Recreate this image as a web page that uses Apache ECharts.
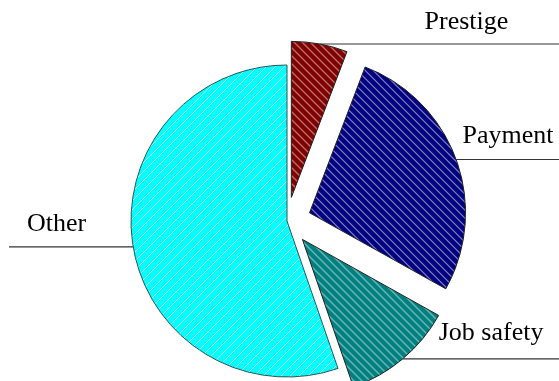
<!DOCTYPE html>
<html>
<head>
<meta charset="utf-8">
<script src="https://cdn.jsdelivr.net/npm/echarts@6/dist/echarts.min.js"></script>
<style>
  html, body { margin: 0; padding: 0; background: #fff; }
  #chart { width: 559px; height: 381px; }
</style>
</head>
<body>
<div id="chart"></div>
<script>
// Reasons for choosing a job: share of answers per category
const categories = ['Prestige', 'Payment', 'Job safety', 'Other'];
const shares = [5.8, 27.3, 11.6, 55.3];
const exploded = [true, true, true, false];

// Fill colours and hatch direction per category
const baseColors = ['#800000', '#000080', '#008080', '#00ffff'];
const hatchDir = ['\\', '\\', '\\', '/'];
const hatchSize = [8, 8, 8, 9];
const borderColors = ['#202020', '#202020', '#202020', '#2a5555'];

// Label placement: distance of the text from the chart edge, lift of the
// text above its leader line, and where the leader line ends
const labelLayouts = [
  { edgeDistance: 55, lift: 22, lineEnd: 559 },
  { edgeDistance: 28, lift: 23, lineEnd: 559 },
  { edgeDistance: 31, lift: 26, lineEnd: 559 },
  { edgeDistance: 27, lift: 23, lineEnd: 9 }
];

const labelFont = '"Liberation Serif", "Times New Roman", serif';

function hatch(base, size, dir, alpha) {
  const c = document.createElement('canvas');
  c.width = size; c.height = size;
  const g = c.getContext('2d');
  g.fillStyle = base;
  g.fillRect(0, 0, size, size);
  g.strokeStyle = 'rgba(255,255,255,' + alpha + ')';
  g.lineWidth = 1;
  g.beginPath();
  for (let k = -1; k <= 1; k++) {
    if (dir === '\\') {
      g.moveTo(k * size, 0);
      g.lineTo(k * size + size, size);
    } else {
      g.moveTo(k * size, size);
      g.lineTo(k * size + size, 0);
    }
  }
  g.stroke();
  return c;
}

const data = categories.map((name, i) => ({
  name: name,
  value: shares[i],
  selected: exploded[i],
  itemStyle: {
    color: { image: hatch(baseColors[i], hatchSize[i], hatchDir[i], i === 3 ? 0.75 : 0.85), repeat: 'repeat' },
    borderColor: borderColors[i],
    borderWidth: 1
  },
  label: {
    alignTo: 'edge',
    edgeDistance: labelLayouts[i].edgeDistance,
    fontFamily: labelFont,
    fontSize: 26,
    // an empty second line lifts the name above the leader line
    lineHeight: labelLayouts[i].lift * 2
  }
}));

const chart = echarts.init(document.getElementById('chart'), null, { renderer: 'canvas' });
chart.setOption({
  animation: false,
  backgroundColor: '#ffffff',
  series: [{
    type: 'pie',
    center: [287, 221],
    radius: 156,
    startAngle: 90,
    clockwise: true,
    selectedMode: 'multiple',
    selectedOffset: 24,
    avoidLabelOverlap: false,
    data: data,
    label: {
      show: true,
      position: 'outside',
      formatter: '{b}\n ',
      fontFamily: labelFont,
      fontSize: 26,
      color: '#000000'
    },
    labelLine: {
      show: true,
      length: 0,
      length2: 10,
      smooth: false,
      lineStyle: { color: '#333333', width: 1.2 }
    },
    labelLayout: function (params) {
      const L = labelLayouts[params.dataIndex];
      const p = params.labelLinePoints[0];
      return {
        labelLinePoints: [[p[0], p[1]], [p[0], p[1]], [L.lineEnd, p[1]]]
      };
    },
    emphasis: { disabled: true },
    select: { itemStyle: {} }
  }]
});
</script>
</body>
</html>
